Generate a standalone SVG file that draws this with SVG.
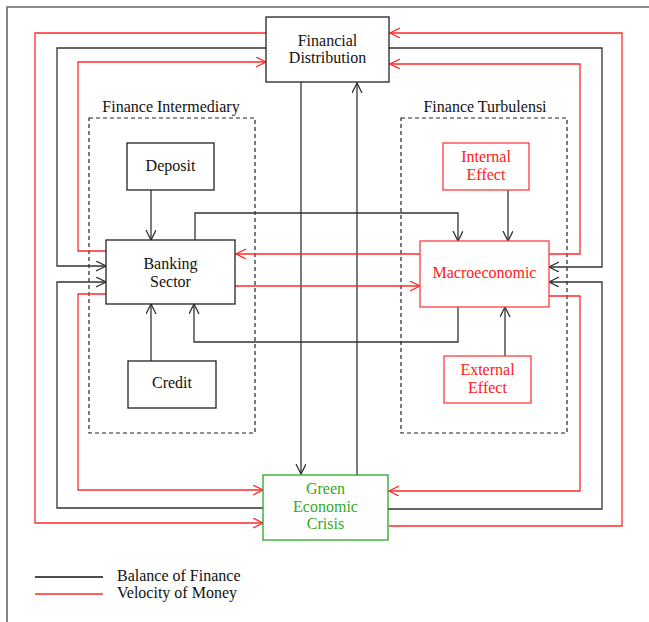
<svg xmlns="http://www.w3.org/2000/svg" width="649" height="622" viewBox="0 0 649 622">
<defs>
<marker id="ab" markerWidth="12" markerHeight="12" refX="10" refY="5" orient="auto" markerUnits="userSpaceOnUse"><path d="M0,0 L10,5 L0,10" fill="none" stroke="#333" stroke-width="1.3"/></marker>
<marker id="ar" markerWidth="12" markerHeight="12" refX="10" refY="5" orient="auto" markerUnits="userSpaceOnUse"><path d="M0,0 L10,5 L0,10" fill="none" stroke="#ff2a2a" stroke-width="1.3"/></marker>
</defs>
<style>
text{font-family:"Liberation Serif","Times New Roman",serif;font-size:16px;text-anchor:middle;fill:#111}
.box{fill:#fff;stroke:#222;stroke-width:1.3}
.rbox{fill:#fff;stroke:#ff3c3c;stroke-width:1.3}
.gbox{fill:#fff;stroke:#22aa22;stroke-width:1.3}
.rt{fill:#ff1a1a}
.gt{fill:#33aa22}
.k{fill:none;stroke:#333;stroke-width:1.3}
.r{fill:none;stroke:#ff2a2a;stroke-width:1.3}
.dash{fill:none;stroke:#222;stroke-width:1.2;stroke-dasharray:4,3}
.frame{fill:none;stroke:#666;stroke-width:1.6}
</style>
<rect width="649" height="622" fill="#fff"/>
<path class="frame" d="M7,622 L7,7 L649,7"/>

<g id="groups">
<rect class="dash" x="89" y="118" width="166" height="315"/>
<text x="171" y="112">Finance Intermediary</text>
<rect class="dash" x="401" y="118" width="166" height="315"/>
<text x="485" y="112">Finance Turbulensi</text>
</g>

<g id="connectors">
<path class="r" d="M266,33 L35,33 L35,523 L263,523" marker-end="url(#ar)"/>
<path class="r" d="M389,526 L622,526 L622,33 L390,33" marker-end="url(#ar)"/>
<path class="k" d="M266,48 L57,48 L57,266 L106,266" marker-end="url(#ab)"/>
<path class="k" d="M263,508 L57,508 L57,282 L106,282" marker-end="url(#ab)"/>
<path class="r" d="M106,251 L78,251 L78,62 L266,62" marker-end="url(#ar)"/>
<path class="r" d="M106,294 L78,294 L78,490 L263,490" marker-end="url(#ar)"/>
<path class="k" d="M389,48 L602,48 L602,267 L549,267" marker-end="url(#ab)"/>
<path class="k" d="M388,509 L602,509 L602,282 L549,282" marker-end="url(#ab)"/>
<path class="r" d="M549,254 L580,254 L580,64 L390,64" marker-end="url(#ar)"/>
<path class="r" d="M549,296 L580,296 L580,491 L389,491" marker-end="url(#ar)"/>
<path class="k" d="M301,82 L301,474" marker-end="url(#ab)"/>
<path class="k" d="M357,475 L357,83" marker-end="url(#ab)"/>
<path class="k" d="M151,190 L151,240" marker-end="url(#ab)"/>
<path class="k" d="M151,361 L151,304" marker-end="url(#ab)"/>
<path class="k" d="M195,240 L195,213 L458,213 L458,241" marker-end="url(#ab)"/>
<path class="k" d="M458,307 L458,342 L194,342 L194,304" marker-end="url(#ab)"/>
<path class="r" d="M420,254 L236,254" marker-end="url(#ar)"/>
<path class="r" d="M235,286 L420,286" marker-end="url(#ar)"/>
<path class="k" d="M508,190 L508,241" marker-end="url(#ab)"/>
<path class="k" d="M505,356 L505,307" marker-end="url(#ab)"/>
</g>

<g id="financial-distribution">
<rect class="box" x="266" y="17" width="123" height="65"/>
<text x="327.5" y="46">Financial</text>
<text x="327.5" y="63">Distribution</text>
</g>
<g id="deposit">
<rect class="box" x="127" y="143" width="87" height="47"/>
<text x="170.5" y="171">Deposit</text>
</g>
<g id="banking-sector">
<rect class="box" x="106" y="240" width="129" height="64"/>
<text x="170.5" y="269">Banking</text>
<text x="170.5" y="287">Sector</text>
</g>
<g id="credit">
<rect class="box" x="128" y="361" width="88" height="47"/>
<text x="172" y="388">Credit</text>
</g>
<g id="internal-effect">
<rect class="rbox" x="443" y="143" width="86" height="47"/>
<text class="rt" x="486" y="162">Internal</text>
<text class="rt" x="486" y="180">Effect</text>
</g>
<g id="macroeconomic">
<rect class="rbox" x="420" y="241" width="129" height="66"/>
<text class="rt" x="484.5" y="278">Macroeconomic</text>
</g>
<g id="external-effect">
<rect class="rbox" x="444" y="356" width="87" height="47"/>
<text class="rt" x="487.5" y="375">External</text>
<text class="rt" x="487.5" y="393">Effect</text>
</g>
<g id="green-economic-crisis">
<rect class="gbox" x="263" y="475" width="125" height="65"/>
<text class="gt" x="325.5" y="494">Green</text>
<text class="gt" x="325.5" y="512">Economic</text>
<text class="gt" x="325.5" y="529">Crisis</text>
</g>

<g id="legend">
<line x1="35" y1="577" x2="103" y2="577" stroke="#111" stroke-width="1.3"/>
<line x1="35" y1="594" x2="103" y2="594" stroke="#ff2a2a" stroke-width="1.3"/>
<text x="117" y="581" style="text-anchor:start">Balance of Finance</text>
<text x="117" y="598" style="text-anchor:start">Velocity  of Money</text>
</g>
</svg>
